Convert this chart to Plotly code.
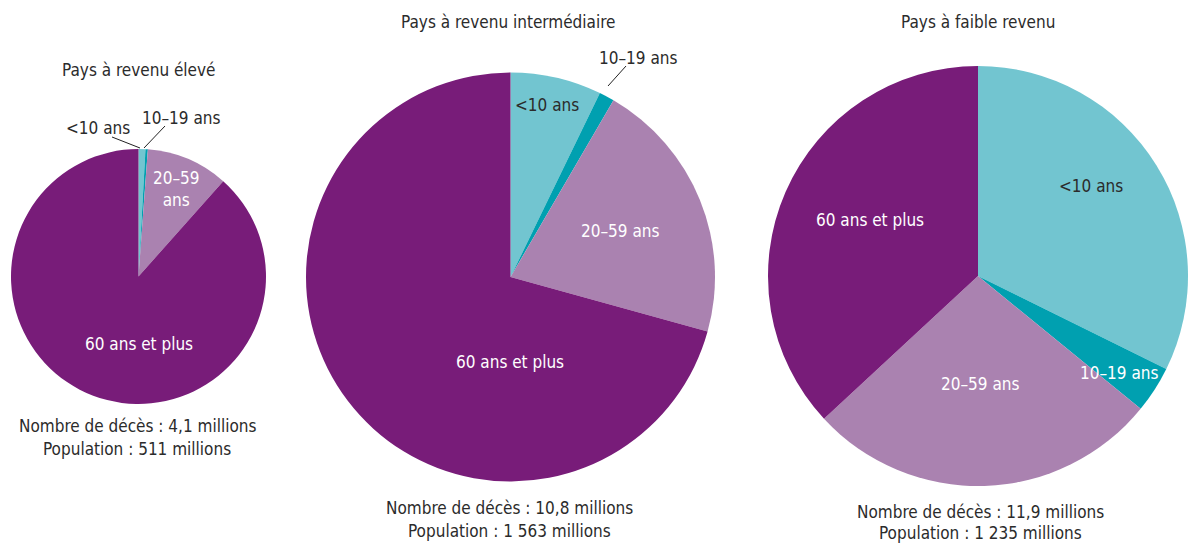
import plotly.graph_objects as go

W, H = 1188, 544

categories = ["<10 ans", "10–19 ans", "20–59 ans", "60 ans et plus"]
colors = ["#72C5D0", "#00A0B0", "#AA82B0", "#781C79"]

titles = ["Pays à revenu élevé", "Pays à revenu intermédiaire", "Pays à faible revenu"]
high_income = [0.87, 0.30, 10.4, 88.43]
middle_income = [7.2, 1.2, 20.9, 70.7]
low_income = [32.3, 3.6, 27.2, 36.9]
deaths = ["4,1", "10,8", "11,9"]
population = ["511", "1 563", "1 235"]

FONT = "Liberation Sans Narrow, DejaVu Sans Condensed, Roboto Condensed, Arial Narrow, sans-serif"
DARK = "#2b2b2b"
FS = 17

# pie geometry in pixels: center x, center y, radius
geom = [(138.5, 276.5, 127.5), (510.5, 277, 204.5), (978, 276, 210)]

fig = go.Figure()
for vals, (cx, cy, r) in zip([high_income, middle_income, low_income], geom):
    fig.add_trace(go.Pie(
        labels=categories, values=vals, sort=False, direction="clockwise", rotation=0,
        marker=dict(colors=colors, line=dict(width=0)),
        textinfo="none", hoverinfo="label+percent", showlegend=False,
        domain=dict(x=[(cx - r) / W, min((cx + r) / W, 1)], y=[1 - (cy + r) / H, 1 - (cy - r) / H]),
    ))

def px(x, y):
    return x / W, 1 - y / H

ann = []
def text(x, y, s, color=DARK, size=FS):
    xx, yy = px(x, y)
    ann.append(dict(x=xx, y=yy, xref="paper", yref="paper", text=s, showarrow=False,
                    font=dict(family=FONT, size=size, color=color), xanchor="center", yanchor="middle"))

# titles
for t, (x, y) in zip(titles, [(139, 70), (508, 22), (978, 22)]):
    text(x, y, t)

# footers
for d, p, (x, y) in zip(deaths, population, [(137, 426), (509, 508), (980, 512)]):
    text(x, y, f"Nombre de décès : {d} millions")
    text(x, min(y + 23, 533), f"Population : {p} millions")

# pie 1 labels
text(98, 128, categories[0])
text(181, 118, categories[1])
text(176, 189, "20–59<br>ans", color="white")
text(139, 344, categories[3], color="white")
# pie 2 labels
text(547, 105, categories[0])
text(638, 58, categories[1])
text(620, 231, categories[2], color="white")
text(510, 362, categories[3], color="white")
# pie 3 labels
text(1091, 186, categories[0])
text(1119, 373, categories[1], color="white")
text(980, 384, categories[2], color="white")
text(870, 220, categories[3], color="white")

shapes = []
for (x0, y0, x1, y1) in [(112, 137, 140, 148), (165, 126, 144, 148), (626, 66, 608, 86)]:
    a0, b0 = px(x0, y0)
    a1, b1 = px(x1, y1)
    shapes.append(dict(type="line", xref="paper", yref="paper", x0=a0, y0=b0, x1=a1, y1=b1,
                       line=dict(color="#222222", width=1)))

fig.update_layout(width=W, height=H, margin=dict(l=0, r=0, t=0, b=0),
                  paper_bgcolor="white", plot_bgcolor="white",
                  annotations=ann, shapes=shapes)
fig.write_html("out.html", config={"displayModeBar": False})

# remove the browser's default body margin so the figure sits at the page origin
with open("out.html", "r", encoding="utf-8") as f:
    html = f.read()
html = html.replace("<head>", "<head><style>html,body{margin:0;padding:0;overflow:hidden;}</style>", 1)
with open("out.html", "w", encoding="utf-8") as f:
    f.write(html)
